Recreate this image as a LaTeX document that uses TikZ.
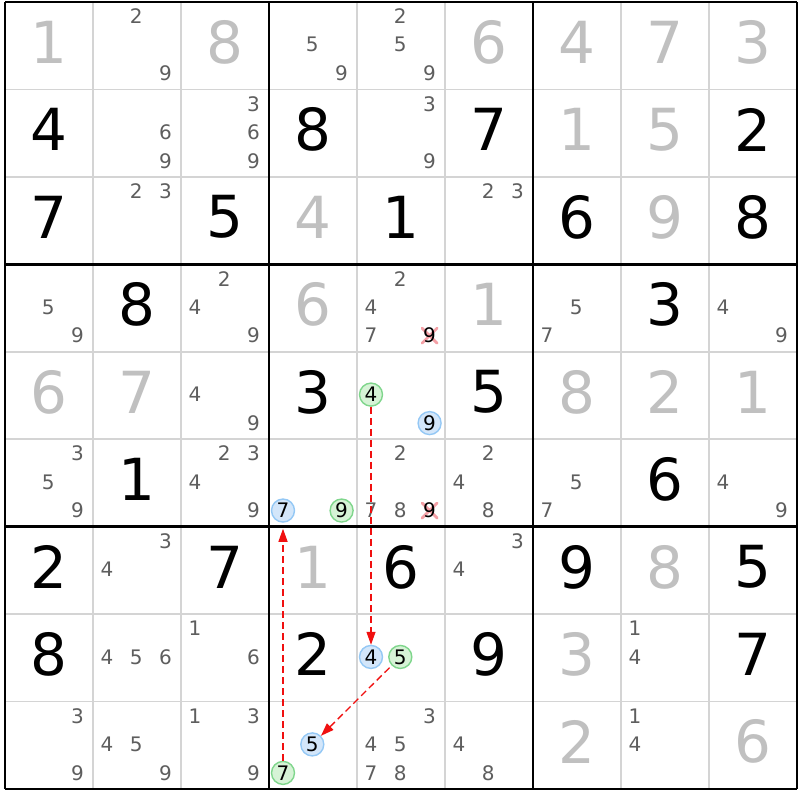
\documentclass[tikz,border=0pt]{standalone}
\usepackage{fontspec}
\setmainfont{DejaVu Sans}
\usetikzlibrary{arrows.meta}
\definecolor{candgray}{HTML}{5E5E5E}
\definecolor{solvgray}{HTML}{C0C0C0}
\definecolor{gridgray}{HTML}{D4D4D4}
\definecolor{grfill}{HTML}{D6F3D6}
\definecolor{grdraw}{HTML}{7FD68C}
\definecolor{blfill}{HTML}{D3E6FA}
\definecolor{bldraw}{HTML}{94C8F5}
\definecolor{xred}{HTML}{F4A0A6}
\definecolor{arrred}{HTML}{F01010}
\newcommand\SCalc[3]{\pgfmathsetmacro\px{5+88*(#2-1)+14+29.3*mod(#3-1,3)}\pgfmathsetmacro\py{2+87.45*(#1-1)+14.3+28.5*floor((#3-1)/3)}}
\newcommand\SBigPos[2]{\pgfmathsetmacro\px{5+88*(#2-1)+44}\pgfmathsetmacro\py{2+87.45*(#1-1)+40.2}}
\newcommand\SGiven[3]{\SBigPos{#1}{#2}\node[givenst] (g#1#2) at (\px,\py) {#3};}
\newcommand\SSolved[3]{\SBigPos{#1}{#2}\node[solvedst] (s#1#2) at (\px,\py) {#3};}
\newcommand\SCand[3]{\foreach \k in {#3}{\SCalc{#1}{#2}{\k}\node[candst] (c#1#2\k) at (\px,\py) {\k};}}
\newcommand\SGreen[3]{\SCalc{#1}{#2}{#3}\node[circst,greenst] (c#1#2#3) at (\px,\py) {#3};}
\newcommand\SBlue[3]{\SCalc{#1}{#2}{#3}\node[circst,bluest] (c#1#2#3) at (\px,\py) {#3};}
\newcommand\SCross[3]{\SCalc{#1}{#2}{#3}\coordinate (x#1#2#3) at (\px,\py);
  \draw[xmarkst] (x#1#2#3) ++(-7.5,-7.5) -- ++(15,15) (x#1#2#3) ++(7.5,-7.5) -- ++(-15,15);
  \node[candst,text=black] (c#1#2#3) at (x#1#2#3) {#3};}
\begin{document}
\begin{tikzpicture}[x=1bp,y=-1bp,
  givenst/.style={inner sep=0pt,text=black,font=\fontsize{58bp}{60bp}\selectfont},
  solvedst/.style={inner sep=0pt,text=solvgray,font=\fontsize{58bp}{60bp}\selectfont},
  candst/.style={inner sep=0pt,text=candgray,font=\fontsize{20bp}{21bp}\selectfont},
  circst/.style={circle,minimum size=23bp,inner sep=0pt,line width=1.4bp,text=black,font=\fontsize{20bp}{21bp}\selectfont},
  greenst/.style={draw=grdraw,fill=grfill},
  bluest/.style={draw=bldraw,fill=blfill},
  xmarkst/.style={draw=xred,line width=2.8bp,line cap=round},
  thinline/.style={draw=gridgray,line width=1.6bp},
  thickline/.style={draw=black,line width=2.8bp},
  linkarrow/.style={draw=arrred,line width=1.3bp,dash pattern=on 7bp off 4bp,-{Triangle[length=13bp,width=9bp]}}
]
\useasboundingbox (0,0) rectangle (800,800);
\fill[white] (0,0) rectangle (800,800);
% thin grid lines
\foreach \i in {1,2,4,5,7,8}{
  \draw[thinline] ({5+88*\i},2) -- ({5+88*\i},789.05);
  \draw[thinline] (5,{2+87.45*\i}) -- (797,{2+87.45*\i});
}
% thick lines
\foreach \i in {0,3,6,9}{
  \draw[thickline] ({5+88*\i},2) -- ({5+88*\i},789.05);
  \draw[thickline] (5,{2+87.45*\i}) -- (797,{2+87.45*\i});
}
% givens
\SGiven{2}{1}{4}\SGiven{2}{4}{8}\SGiven{2}{6}{7}\SGiven{2}{9}{2}
\SGiven{3}{1}{7}\SGiven{3}{3}{5}\SGiven{3}{5}{1}\SGiven{3}{7}{6}\SGiven{3}{9}{8}
\SGiven{4}{2}{8}\SGiven{4}{8}{3}
\SGiven{5}{4}{3}\SGiven{5}{6}{5}
\SGiven{6}{2}{1}\SGiven{6}{8}{6}
\SGiven{7}{1}{2}\SGiven{7}{3}{7}\SGiven{7}{5}{6}\SGiven{7}{7}{9}\SGiven{7}{9}{5}
\SGiven{8}{1}{8}\SGiven{8}{4}{2}\SGiven{8}{6}{9}\SGiven{8}{9}{7}
% solved
\SSolved{1}{1}{1}\SSolved{1}{3}{8}\SSolved{1}{6}{6}\SSolved{1}{7}{4}\SSolved{1}{8}{7}\SSolved{1}{9}{3}
\SSolved{2}{7}{1}\SSolved{2}{8}{5}
\SSolved{3}{4}{4}\SSolved{3}{8}{9}
\SSolved{4}{4}{6}\SSolved{4}{6}{1}
\SSolved{5}{1}{6}\SSolved{5}{2}{7}\SSolved{5}{7}{8}\SSolved{5}{8}{2}\SSolved{5}{9}{1}
\SSolved{7}{4}{1}\SSolved{7}{8}{8}
\SSolved{8}{7}{3}
\SSolved{9}{7}{2}\SSolved{9}{9}{6}
% candidates
\SCand{1}{2}{2,9}\SCand{1}{4}{5,9}\SCand{1}{5}{2,5,9}
\SCand{2}{2}{6,9}\SCand{2}{3}{3,6,9}\SCand{2}{5}{3,9}
\SCand{3}{2}{2,3}\SCand{3}{6}{2,3}
\SCand{4}{1}{5,9}\SCand{4}{3}{2,4,9}\SCand{4}{5}{2,4,7}\SCross{4}{5}{9}\SCand{4}{7}{5,7}\SCand{4}{9}{4,9}
\SCand{5}{3}{4,9}\SGreen{5}{5}{4}\SBlue{5}{5}{9}
\SCand{6}{1}{3,5,9}\SCand{6}{3}{2,3,4,9}\SBlue{6}{4}{7}\SGreen{6}{4}{9}
\SCand{6}{5}{2,7,8}\SCross{6}{5}{9}\SCand{6}{6}{2,4,8}\SCand{6}{7}{5,7}\SCand{6}{9}{4,9}
\SCand{7}{2}{3,4}\SCand{7}{6}{3,4}
\SCand{8}{2}{4,5,6}\SCand{8}{3}{1,6}\SBlue{8}{5}{4}\SGreen{8}{5}{5}\SCand{8}{8}{1,4}
\SCand{9}{1}{3,9}\SCand{9}{2}{4,5,9}\SCand{9}{3}{1,3,9}\SBlue{9}{4}{5}\SGreen{9}{4}{7}
\SCand{9}{5}{3,4,5,7,8}\SCand{9}{6}{4,8}\SCand{9}{8}{1,4}
% links
\draw[linkarrow] (c554) -- (c854);
\draw[linkarrow,shorten <=3bp] (c855) -- (c945);
\draw[linkarrow,shorten >=6bp] (c947) -- (c647);
\end{tikzpicture}
\end{document}
